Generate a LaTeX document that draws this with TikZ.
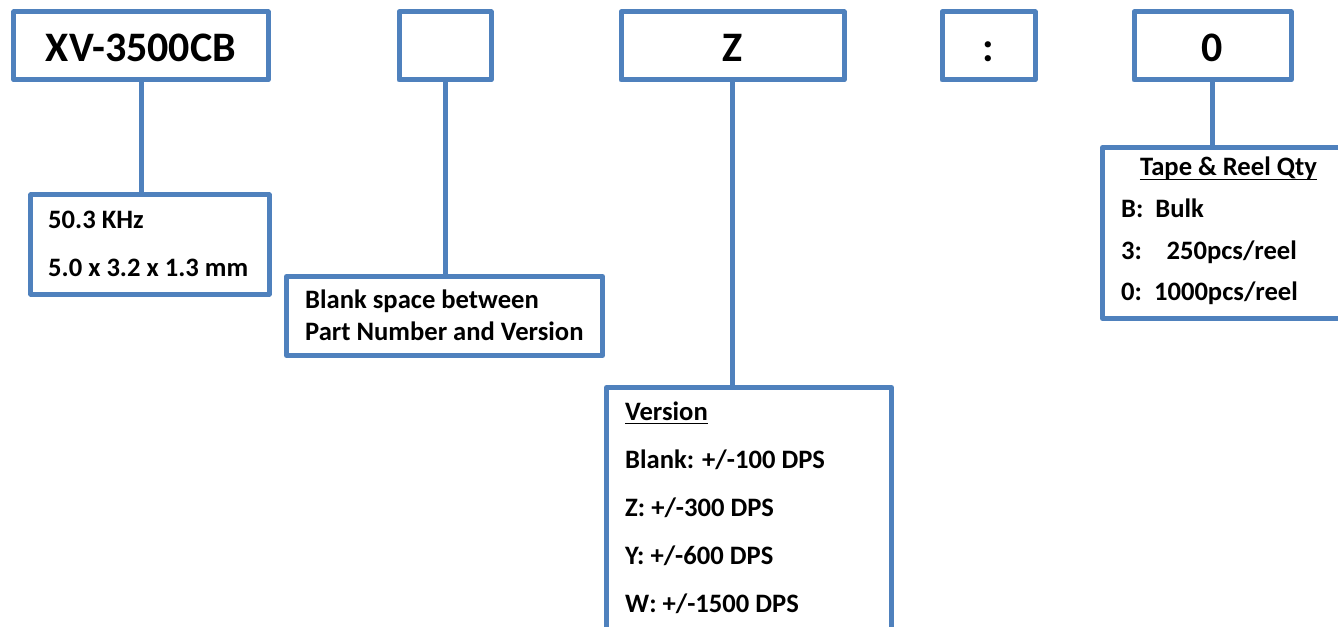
\documentclass[tikz,border=0pt]{standalone}
\usepackage{fontspec}
\setmainfont{Carlito}
\definecolor{boxblue}{HTML}{4F81BD}
\begin{document}
\begin{tikzpicture}[x=1bp,y=-1bp,
  box/.style={draw=boxblue, line width=5bp, line join=round, inner sep=0pt, fill=white},
  topbox/.style={box, minimum height=68bp, text height=32bp, text depth=0pt,
                 font=\bfseries\fontsize{42bp}{50bp}\selectfont},
  smalltxt/.style={font=\bfseries\fontsize{26.6bp}{31bp}\selectfont, inner sep=0pt, anchor=base west},
  link/.style={draw=boxblue, line width=5bp},
  uline/.style={line width=1.7bp, black}]
\useasboundingbox (0,0) rectangle (1338,627);
\clip (0,0) rectangle (1338,627);

% top row
\node[topbox, minimum width=254bp] (pn)  at (141,46)    {XV-3500CB};
\node[topbox, minimum width=92bp]  (sp)  at (445,46)    {};
\node[topbox, minimum width=223bp] (ver) at (732.5,46)  {Z};
\node[topbox, minimum width=93bp]  (col) at (988.5,46)  {:};
\node[topbox, minimum width=157bp] (qty) at (1212.5,46) {0};

% lower boxes
\node[box, minimum width=238bp, minimum height=99bp]    (freq)  at (150,244.5)   {};
\node[box, minimum width=316bp, minimum height=79bp]    (blank) at (444.5,316)   {};
\node[box, minimum width=285bp, minimum height=292.5bp] (vbox)  at (749,533.75)  {};
\node[box, minimum width=297.5bp, minimum height=171bp] (tbox)  at (1251.25,233) {};

% connectors
\draw[link] (pn.south)  -- (pn.south  |- freq.north);
\draw[link] (sp.south)  -- (sp.south  |- blank.north);
\draw[link] (ver.south) -- (ver.south |- vbox.north);
\draw[link] (qty.south) -- (qty.south |- tbox.north);

% texts
\node[smalltxt] (f1) at (48,228) {50.3 KHz};
\node[smalltxt] (f2) at (48,276) {5.0 x 3.2 x 1.3 mm};

\node[smalltxt] (b1) at (305,308) {Blank space between};
\node[smalltxt] (b2) at (305,340) {Part Number and Version};

\node[smalltxt] (v0) at (625,420) {Version};
\draw[uline] ([yshift=-3.5bp]v0.base west) -- ([yshift=-3.5bp]v0.base east);
\node[smalltxt] (v1) at (625,468) {Blank: +/-100 DPS};
\node[smalltxt] (v2) at (625,516) {Z: +/-300 DPS};
\node[smalltxt] (v3) at (625,564) {Y: +/-600 DPS};
\node[smalltxt] (v4) at (625,612) {W: +/-1500 DPS};

\node[smalltxt, anchor=base] (t0) at (1228.5,176) {Tape \& Reel Qty};
\draw[uline] ([yshift=-3.5bp]t0.base west) -- ([yshift=-3.5bp]t0.base east);
\node[smalltxt] (t1) at (1121,217) {B:\hspace*{12bp}Bulk};
\node[smalltxt] (t2) at (1121,259) {3:\hspace*{24.5bp}250pcs/reel};
\node[smalltxt] (t3) at (1121,300) {0:\hspace*{12bp}1000pcs/reel};
\end{tikzpicture}
\end{document}
